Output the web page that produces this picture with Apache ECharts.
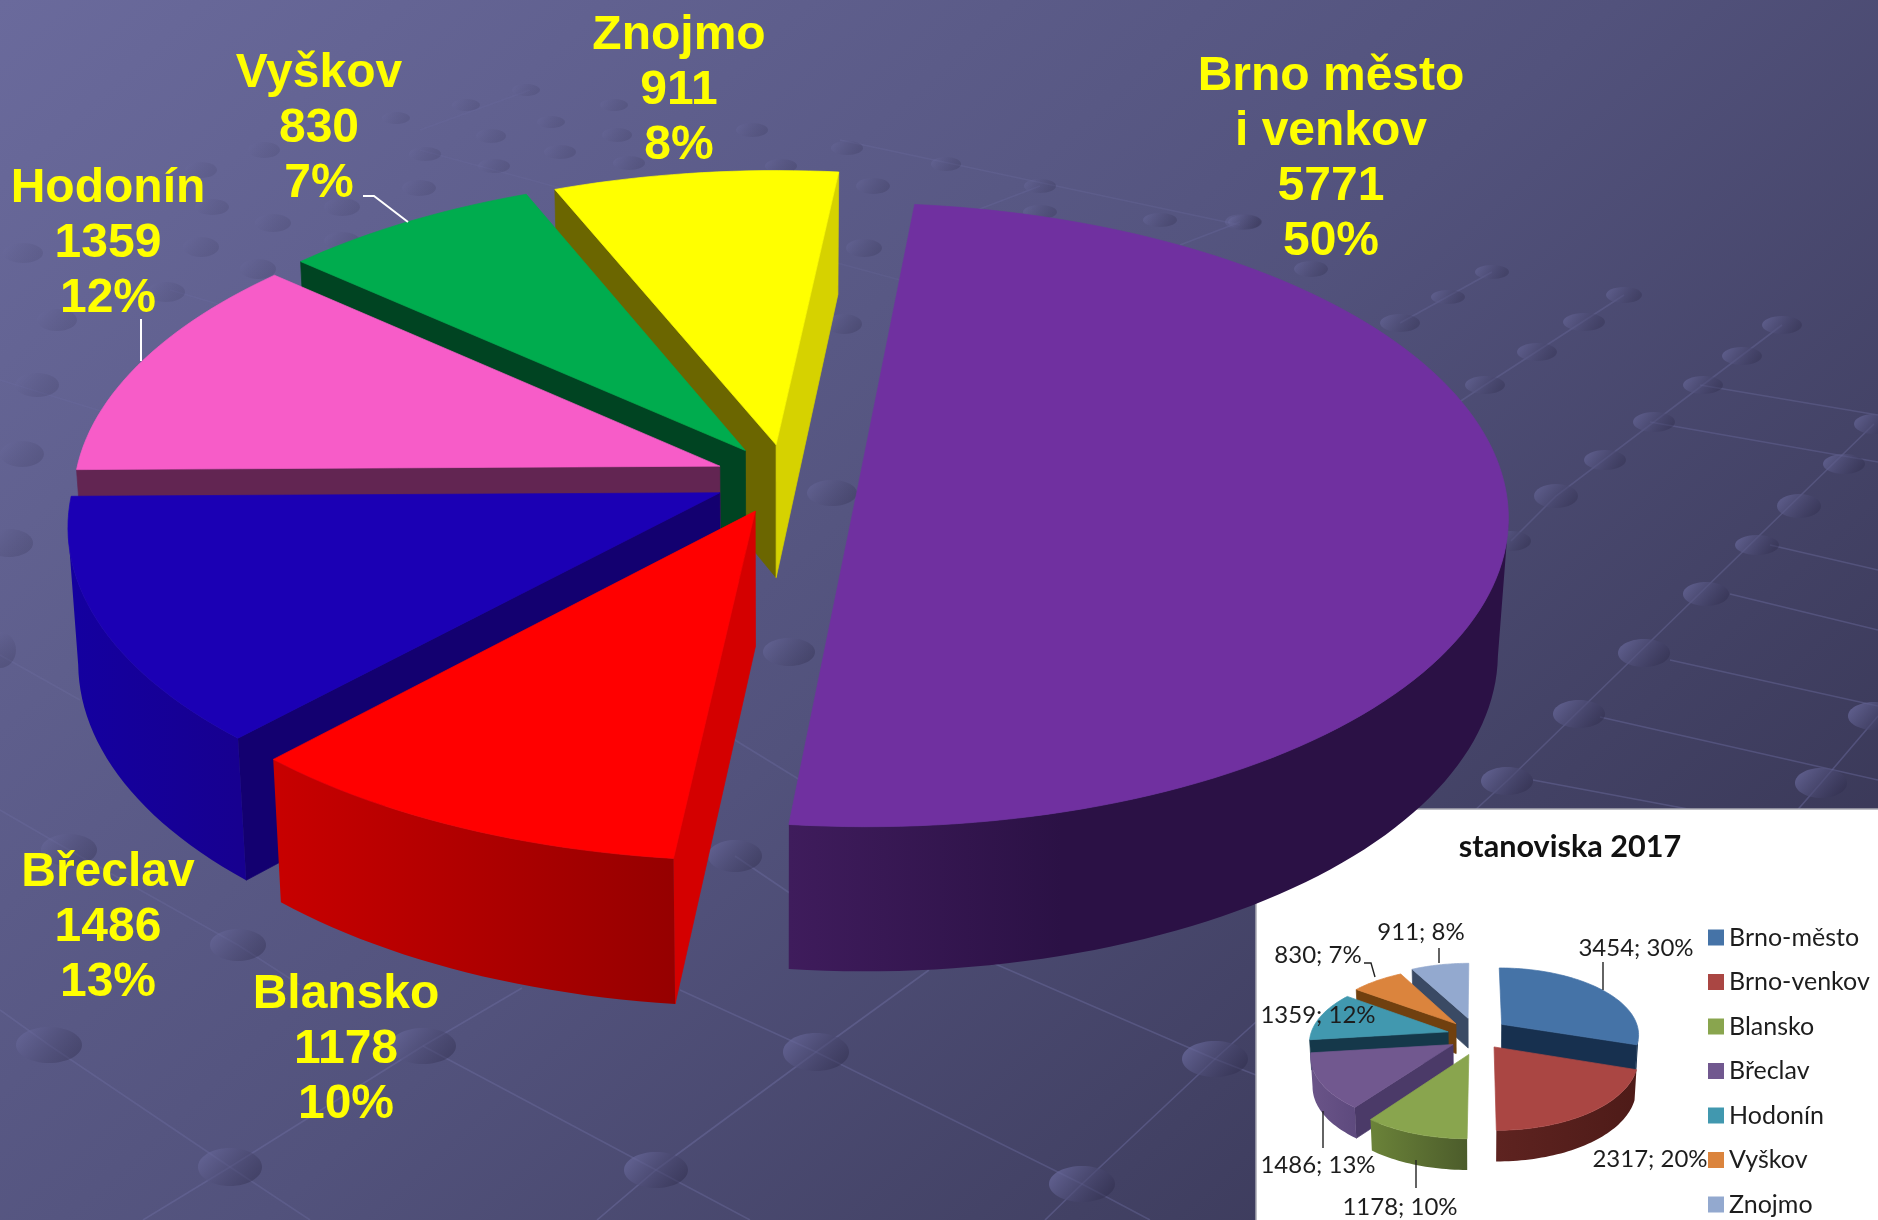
<!DOCTYPE html>
<html><head><meta charset="utf-8">
<style>html,body{margin:0;padding:0;background:#4a4a70}#c{width:1878px;height:1220px}</style>
<script src="https://cdn.jsdelivr.net/npm/echarts@6/dist/echarts.min.js"></script>
</head><body><div id="c"></div>
<script>
// ---------- data ----------
const mainNames = ['Brno město\ni venkov','Blansko','Břeclav','Hodonín','Vyškov','Znojmo'];
const mainValues = [5771,1178,1486,1359,830,911];
const insetTitle = 'stanoviska 2017';
const insetNames = ['Brno-město','Brno-venkov','Blansko','Břeclav','Hodonín','Vyškov','Znojmo'];
const insetValues = [3454,2317,1178,1486,1359,830,911];

// ---------- layout and style ----------
const mainView = {ox:788,oy:478,rx:645,ry:308,q:0.10,rot:6.1,ex:0.11,ey:0.11,h0:134,hk:-10.5,vpx:780,vpd:9400,
  nudge:[[0,2],[-3,2],[-3,1],[-2,0],[-2,0],[-2,0]]};
const insetView = {ox:1468,oy:1036,rx:138,ry:67,q:0.143,rot:0,ex:0.18,ey:0.25,h0:30,hk:-1,vpx:1468,vpd:2500,
  nudge:[[14,-2],[11,-3],[9,2],[7,0],[4,0],[4,0],[6,-2]]};
const mainPaint = [9,8,7,6,5,4];
const insetPaint = [8,9,7,6,5,4,3];
// top, start radial wall, end radial wall, outer wall from start side, outer wall at end side, share of the wall kept at its first colour
const mainColors = [
 ['#7030A0','#2b1145','#2b1145','#2b1145','#3f1c5c',0.62],
 ['#FF0000','#D40000','#D40000','#960000','#C80000',0],
 ['#1B00B4','#130070','#130070','#170090','#1400A0',0],
 ['#F75CC8','#622552','#622552','#622552','#622552',0],
 ['#00AC4E','#004422','#004422','#004422','#004422',0],
 ['#FFFF00','#6B6600','#D6D200','#D6D200','#D6D200',0]];
const insetColors = [
 ['#4573A7','#17304F','#17304F','#1b3656','#17304F',0],
 ['#AA4643','#4E1B18','#4E1B18','#4E1B18','#5E2320',0],
 ['#89A54E','#4C5C2B','#4C5C2B','#4C5C2B','#6B8339',0],
 ['#71588F','#4B3A68','#4B3A68','#5E4A7E','#6A5488',0],
 ['#4198AF','#15384A','#15384A','#15384A','#15384A',0],
 ['#DB843D','#70400F','#70400F','#70400F','#70400F',0],
 ['#93A9CF','#3A4A64','#3A4A64','#3A4A64','#3A4A64',0]];
const mainLabelAt = [[1331,159],[346,1050],[108,928],[108,244],[319,129],[679,91]];
const mainLeaders = [null,null,null,[[141,319],[141,361]],[[363,196],[374,196],[408,222]],null];
const insetLabelAt = [[1636,948],[1650,1159],[1400,1207],[1318,1165],[1318,1015],[1318,955],[1421,932]];
const insetLeaders = [[[1603,962],[1603,990]],null,[[1416,1160],[1416,1188]],[[1323,1111],[1323,1148]],null,[[1364,963],[1371,963],[1375,977]],[[1439,948],[1439,963]]];

// floor decoration of the slide background
const floorDots = [[1243,222,18,8],[1311,269,17,8],[1492,272,17,7],[1448,297,17,7],[1400,323,20,9],[1624,295,18,8],[1584,322,21,9],[1537,352,20,9],[1485,385,20,9],
[1782,325,20,9],[1742,356,20,9],[1703,385,20,9],[1654,422,21,10],[1605,460,21,10],[1556,496,22,12],[1874,424,20,10],[1844,464,21,10],[1799,506,22,12],[1757,545,22,10],[1706,594,23,12],
[1644,653,26,14],[1579,714,26,14],[1507,781,26,14],[1821,783,26,15],[1874,716,26,14],[1511,541,20,10],
[0,650,16,18],[69,850,28,16],[238,945,28,16],[49,1045,33,18],[423,1046,33,18],[789,652,26,14],[735,856,27,16],[816,1052,33,19],[230,1167,32,19],[656,1170,32,18],[1215,1059,33,18],[1082,1184,33,18],
[526,90,14,6],[466,105,14,6],[396,118,14,6],[614,105,14,6],[551,122,14,6],[491,136,15,7],[425,154,16,7],[752,130,16,7],[617,135,15,7],[560,152,16,7],[847,148,16,7],[781,166,16,7],[629,163,16,7],[494,166,16,7],[419,188,17,8],[873,186,17,8],[342,207,18,9],[273,223,18,9],[342,241,18,9],[201,247,18,10],[258,269,18,10],[864,248,18,9],[832,493,25,13],[57,320,20,11],[23,253,20,10],[166,292,19,10],[37,385,22,12],[22,454,22,13],[9,543,24,14],[201,170,16,8],[264,150,16,8],[212,207,17,8],[1040,186,16,7],[946,164,15,7],[1040,212,17,7],[1160,220,17,7],[1245,222,17,7],[844,324,18,10]];
const floorLines = [[[1624,295],[1485,385],[1420,428]],[[1782,325],[1556,496],[1511,541]],[[1874,424],[1507,781],[1440,842]],[[1878,716],[1821,783],[1780,830]],[[1492,272],[1400,323]],
[[1670,660],[1878,706]],[[1730,594],[1878,630]],[[1533,780],[1800,830]],[[1600,717],[1878,780]],[[1770,545],[1878,570]],[[1650,422],[1878,462]],[[1700,385],[1878,415]],
[[0,1010],[49,1045],[230,1167],[310,1220]],[[0,655],[80,700]],[[0,810],[69,850],[238,945],[300,985]],[[423,1046],[656,1170],[750,1220]],[[143,1220],[230,1167],[423,1046],[522,988]],
[[597,1220],[656,1170],[816,1052],[929,970]],[[680,990],[816,1052],[1082,1184],[1150,1220]],[[717,729],[800,780]],[[735,856],[800,900]],[[1045,1220],[1082,1184],[1215,1059],[1256,1022]],[[993,963],[1215,1059],[1256,1075]],
[[420,150],[900,280]],[[170,290],[720,450]],[[0,380],[130,420]],[[530,90],[420,130]],[[840,140],[1240,225]],[[1040,186],[930,228]],[[1240,222],[1180,245]]];

// ---------- pie geometry ----------
const rad = d => d*Math.PI/180;
function project(v,X,Y){const w=1+v.q*Y;return [v.ox+v.rx*X/w,v.oy-v.ry*Y/w];}
function drop(v,X,Y){const p=project(v,X,Y),h=v.h0+v.hk*Y;return [p[0]+(v.vpx-p[0])*h/v.vpd,p[1]+h];}

function pieItem(view,values,colors,names,labelAt,leaders,paint,i,font,lineH,textColor,leaderColor,leaderW,labelText){
  const total=values.reduce((a,b)=>a+b,0);
  let before=0;for(let k=0;k<i;k++)before+=values[k];
  const th0=before/total*360, th1=(before+values[i])/total*360, mid=(th0+th1)/2;
  const ax=view.ex*Math.sin(rad(mid+view.rot)), ay=view.ey*Math.cos(rad(mid+view.rot));
  const steps=Math.max(6,Math.ceil((th1-th0)/1.5));
  const rim=[];
  for(let s=0;s<=steps;s++){const t=rad(th0+(th1-th0)*s/steps+view.rot);rim.push([ax+Math.sin(t),ay+Math.cos(t)]);}
  const col=colors[i], z=paint[i]*10, kids=[], nd=view.nudge[i];
  const top=(p)=>{const q=project(view,p[0],p[1]);return [q[0]+nd[0],q[1]+nd[1]];};
  const low=(p)=>{const q=drop(view,p[0],p[1]);return [q[0]+nd[0],q[1]+nd[1]];};
  const poly=(pts,c,zz)=>({type:'polygon',shape:{points:pts},style:{fill:c,stroke:(typeof c==='string')?c:null,lineWidth:typeof c==='string'?0.7:0},z2:zz});
  const apex=[ax,ay];
  // a face shows when, walking the outline clockwise on screen, its edge runs leftwards
  const dx=(a,b)=>top(b)[0]-top(a)[0];
  if(dx(apex,rim[0])<-3) kids.push(poly([top(apex),top(rim[0]),low(rim[0]),low(apex)],col[1],z));
  if(dx(rim[steps],apex)<-3) kids.push(poly([top(rim[steps]),top(apex),low(apex),low(rim[steps])],col[2],z));
  const run=[];
  for(let s=0;s<=steps;s++){
    const lead=s<steps&&dx(rim[s],rim[s+1])<0, trail=s>0&&dx(rim[s-1],rim[s])<0;
    if(lead||trail) run.push(rim[s]);
  }
  if(run.length>1){
    const pts=run.map(top).concat(run.slice().reverse().map(low));
    const x0=top(run[0])[0], x1=top(run[run.length-1])[0];
    const fill=new echarts.graphic.LinearGradient(x0,0,x1,0,[{offset:0,color:col[3]},{offset:col[5],color:col[3]},{offset:1,color:col[4]}],true);
    kids.push(poly(pts,fill,z+1));
  }
  kids.push(poly([top(apex)].concat(rim.map(top)),col[0],z+2));
  if(leaders[i]) kids.push({type:'polyline',shape:{points:leaders[i]},style:{fill:null,stroke:leaderColor,lineWidth:leaderW},z2:900});
  kids.push({type:'text',style:{text:labelText(names[i],values[i],Math.round(values[i]/total*100)),x:labelAt[i][0],y:labelAt[i][1],align:'center',verticalAlign:'middle',fill:textColor,font:font,lineHeight:lineH},z2:1000});
  return {type:'group',children:kids};
}

// ---------- chart ----------
const contrast=(x,y)=>Math.max(0.2,Math.min(1,0.1+0.9*(x/1878*0.55+y/1220*0.8)));
const graphics=[];
floorLines.forEach(l=>{
  const a=contrast(l[0][0],l[0][1]);
  graphics.push({type:'polyline',shape:{points:l},style:{fill:null,stroke:'rgba(120,120,175,'+(0.32*a+0.05).toFixed(3)+')',lineWidth:1.6},z:0,silent:true});
});
floorDots.forEach(d=>{
  const a=contrast(d[0],d[1]);
  graphics.push({type:'ellipse',shape:{cx:d[0],cy:d[1],rx:d[2],ry:d[3]},style:{fill:new echarts.graphic.LinearGradient(0.15,0,0.8,1,[{offset:0,color:'rgba(108,108,160,'+(0.7*a).toFixed(3)+')'},{offset:1,color:'rgba(50,48,80,'+(0.55*a).toFixed(3)+')'}])},z:0,silent:true});
});
graphics.push({type:'rect',shape:{x:1256,y:809,width:630,height:420},style:{fill:'#fff',stroke:'#a9a9b3',lineWidth:1.5},z:1,silent:true});

const series=[{
  type:'custom',name:'main',coordinateSystem:'none',silent:true,animation:false,z:3,
  data:mainValues.map((v,i)=>[v,i]),
  renderItem:(p,api)=>pieItem(mainView,mainValues,mainColors,mainNames,mainLabelAt,mainLeaders,mainPaint,api.value(1),
    'bold 48px "Liberation Sans"',55,'#FFFF00','#FFFFFF',2,(n,v,pc)=>n+'\n'+v+'\n'+pc+'%')
}];
insetNames.forEach((name,i)=>series.push({
  type:'custom',name:name,coordinateSystem:'none',silent:true,animation:false,z:3,
  itemStyle:{color:insetColors[i][0]},
  data:[[insetValues[i],i]],
  renderItem:(p,api)=>pieItem(insetView,insetValues,insetColors,insetNames,insetLabelAt,insetLeaders,insetPaint,api.value(1),
    '24px Lato',26,'#1d1d1d','#222222',1.4,(n,v,pc)=>v+'; '+pc+'%')
}));

const chart=echarts.init(document.getElementById('c'),null,{renderer:'canvas',width:1878,height:1220});
chart.setOption({
  animation:false,
  backgroundColor:{type:'linear',x:0,y:0,x2:1446,y2:1610,global:true,colorStops:[{offset:0,color:'#6A6A9C'},{offset:0.5,color:'#52527C'},{offset:1,color:'#32304C'}]},
  title:{text:insetTitle,left:1565,top:842,textAlign:'center',textVerticalAlign:'middle',textStyle:{fontFamily:'Lato',fontWeight:'bold',fontSize:30.6,color:'#111'},z:6},
  legend:{data:insetNames,orient:'vertical',left:1708,top:925,itemWidth:16,itemHeight:16,itemGap:19.5,icon:'rect',selectedMode:false,
    textStyle:{fontFamily:'Lato',fontSize:25,color:'#1d1d1d',lineHeight:16},padding:0},
  graphic:{elements:graphics},
  series:series
});
</script></body></html>
